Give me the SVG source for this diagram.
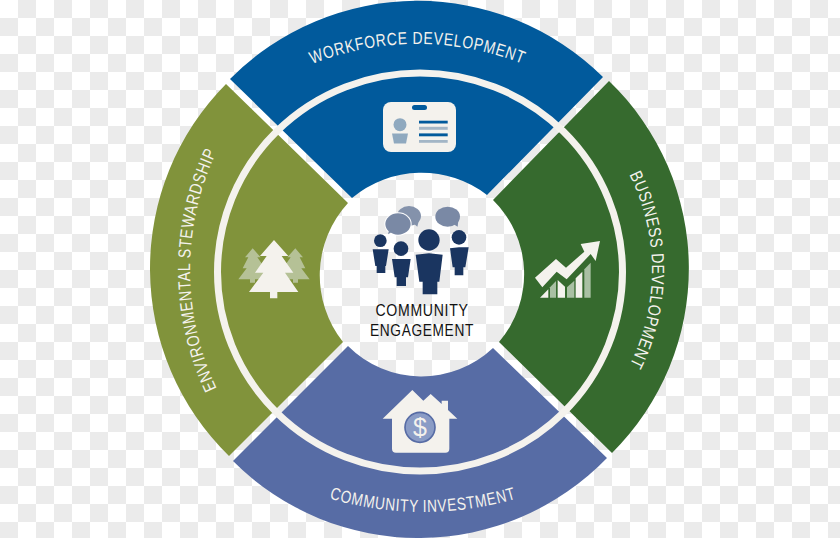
<svg xmlns="http://www.w3.org/2000/svg" width="840" height="538" viewBox="0 0 840 538">
  <style>
    .seg-label { font-family: "Liberation Sans", Arial, sans-serif; font-size: 17.5px; letter-spacing: 0.9px; fill: #f4f2ed; text-anchor: middle; }
    .hub-label { font-family: "Liberation Sans", Arial, sans-serif; font-size: 16.5px; letter-spacing: 0.8px; fill: #111; text-anchor: middle; }
    .cream { fill: #f4f2ed; }
    .navy { fill: #1a3560; }
  </style>
  <defs>
    <pattern id="checks" width="36" height="36" patternUnits="userSpaceOnUse">
      <rect width="36" height="36" fill="#ffffff"/>
      <rect x="18" width="18" height="18" fill="#ebebeb"/>
      <rect y="18" width="18" height="18" fill="#ebebeb"/>
    </pattern>
    <path id="arc-top" d="M131.5,330 A286,286 0 0 1 703.5,330"/>
    <path id="arc-right" d="M440,58 A212,212 0 0 1 440,482"/>
    <path id="arc-bottom" d="M90,179 A333,333 0 0 0 756,179"/>
    <path id="arc-left" d="M467,547 A277,277 0 0 1 467,-7"/>
  </defs>

  <rect id="backdrop" width="840" height="538" fill="url(#checks)"/>

  <g id="workforce-development">
    <path fill="#015a9c" d="M230,79 A264,264 0 0 1 603,77 L487,195 A108,108 0 0 0 352,198 Z"/>
    <text class="seg-label"><textPath href="#arc-top" startOffset="50%" textLength="216" lengthAdjust="spacingAndGlyphs">WORKFORCE DEVELOPMENT</textPath></text>
  </g>
  <g id="business-development">
    <path fill="#366a2e" d="M609,81 A260,260 0 0 1 612,453 L499,342 A104,104 0 0 0 493,200 Z"/>
    <text class="seg-label"><textPath href="#arc-right" startOffset="50%" textLength="198" lengthAdjust="spacingAndGlyphs">BUSINESS DEVELOPMENT</textPath></text>
  </g>
  <g id="community-investment">
    <path fill="#576ca5" d="M607,458 A262,262 0 0 1 233,461 L348,346 A104,104 0 0 0 493,348 Z"/>
    <text class="seg-label"><textPath href="#arc-bottom" startOffset="50%" textLength="190" lengthAdjust="spacingAndGlyphs">COMMUNITY INVESTMENT</textPath></text>
  </g>
  <g id="environmental-stewardship">
    <path fill="#81933b" d="M229,456 A262,262 0 0 1 226,84 L348,203 A107,107 0 0 0 343,342 Z"/>
    <text class="seg-label"><textPath href="#arc-left" startOffset="50%" textLength="245" lengthAdjust="spacingAndGlyphs">ENVIRONMENTAL STEWARDSHIP</textPath></text>
  </g>

  <g id="connectors">
    <ellipse cx="420" cy="272" rx="202.5" ry="199" fill="none" stroke="#f4f2ed" stroke-width="7"/>
  </g>

  <!-- ID badge -->
  <g id="badge-icon">
    <rect class="cream" x="383" y="102" width="73" height="50" rx="8"/>
    <rect x="412" y="105" width="15" height="5" rx="2.5" fill="#015a9c"/>
    <circle cx="400" cy="124.7" r="6.5" fill="#8fa9bf"/>
    <path d="M392,133.5 H408 L406,143.5 H394 Z" fill="#8fa9bf"/>
    <rect x="419" y="120.7" width="28.7" height="2.8" fill="#015a9c"/>
    <rect x="419" y="126.8" width="28.7" height="3" fill="#a3b6c6"/>
    <rect x="419" y="133.4" width="28.7" height="2.9" fill="#015a9c"/>
    <rect x="419" y="140" width="28.7" height="2.8" fill="#a3b6c6"/>
  </g>

  <!-- rising chart -->
  <g id="chart-icon" transform="translate(525,230) scale(0.3333)">
    <path class="cream" d="M30,143 L93,87 L123,113 L178,65 L167,42 L225,33 L212,93 L197,72 L125,148 L95,125 L52,172 Z"/>
    <path class="cream" d="M45,203 L70,178 V203 Z"/>
    <path fill="#a9c0a3" d="M75,203 V172 L93,153 V203 Z"/>
    <path class="cream" d="M98,203 V150 L120,170 V203 Z"/>
    <path fill="#a9c0a3" d="M126,203 V172 L148,152 V203 Z"/>
    <path class="cream" d="M152,203 V145 L172,125 V203 Z"/>
    <path fill="#a9c0a3" d="M178,203 V118 L197,98 V203 Z"/>
  </g>

  <!-- house with coin -->
  <g id="house-icon">
    <g transform="translate(370,380) scale(0.3333)">
      <path class="cream" d="M38,116 L127,30 L160,62 L182,42 L215,72 V62 H234 V90 L262,116 H238 V206 Q238,218 226,218 H78 Q66,218 66,206 V116 Z"/>
      <circle cx="150" cy="142" r="45" fill="#8a9cc6" stroke="#576ca5" stroke-width="5"/>
    </g>
    <text x="420" y="436" font-family="Liberation Sans, Arial, sans-serif" font-size="25" fill="#f4f2ed" text-anchor="middle">$</text>
  </g>

  <!-- pine trees -->
  <g id="tree-icon" transform="translate(230,230) scale(0.3333)">
    <path fill="#b5c196" d="M68,55 L92,82 H82 L105,115 H95 L115,148 H75 V158 H60 V148 H25 L50,115 H38 L55,82 H45 Z"/>
    <path fill="#b5c196" d="M196,55 L172,82 H182 L159,115 H169 L149,148 H189 V158 H204 V148 H239 L214,115 H226 L209,82 H219 Z"/>
    <path class="cream" d="M132,30 L175,78 H155 L190,128 H165 L205,186 H142 V205 H120 V186 H57 L100,128 H75 L110,78 H90 Z"/>
  </g>

  <g id="community-engagement">
    <g transform="translate(360,190) scale(0.3333)">
      <!-- speech bubbles -->
      <ellipse cx="147" cy="78" rx="36" ry="30" fill="#8492ab"/>
      <path d="M160,100 L172,110 L176,94 Z" fill="#8492ab"/>
      <ellipse cx="114" cy="102" rx="41" ry="35" fill="#ffffff"/>
      <ellipse cx="114" cy="102" rx="38" ry="32" fill="#7a89a5"/>
      <path d="M95,126 L84,133 L88,118 Z" fill="#7a89a5"/>
      <ellipse cx="263" cy="80" rx="37" ry="30" fill="#7a89a5"/>
      <path d="M280,102 L293,110 L295,92 Z" fill="#7a89a5"/>
      <!-- people -->
      <g class="navy">
        <circle cx="61" cy="152" r="19"/>
        <path d="M38,178 H86 L78,228 H76 V249 H50 V228 H46 Z"/>
        <circle cx="123" cy="176" r="22"/>
        <path d="M96,207 H152 L144,262 H138 V288 H110 V262 H104 Z"/>
        <circle cx="207" cy="150" r="32"/>
        <path d="M167,194 L207,190 L248,194 L238,275 H232 V313 H188 V275 H178 Z"/>
        <circle cx="297" cy="142" r="22"/>
        <path d="M270,175 L297,172 L326,172 L316,232 H310 V256 H284 V232 H278 Z"/>
      </g>
    </g>
    <text class="hub-label" x="422" y="316" textLength="93" lengthAdjust="spacingAndGlyphs">COMMUNITY</text>
    <text class="hub-label" x="422" y="336" textLength="104" lengthAdjust="spacingAndGlyphs">ENGAGEMENT</text>
  </g>
</svg>
